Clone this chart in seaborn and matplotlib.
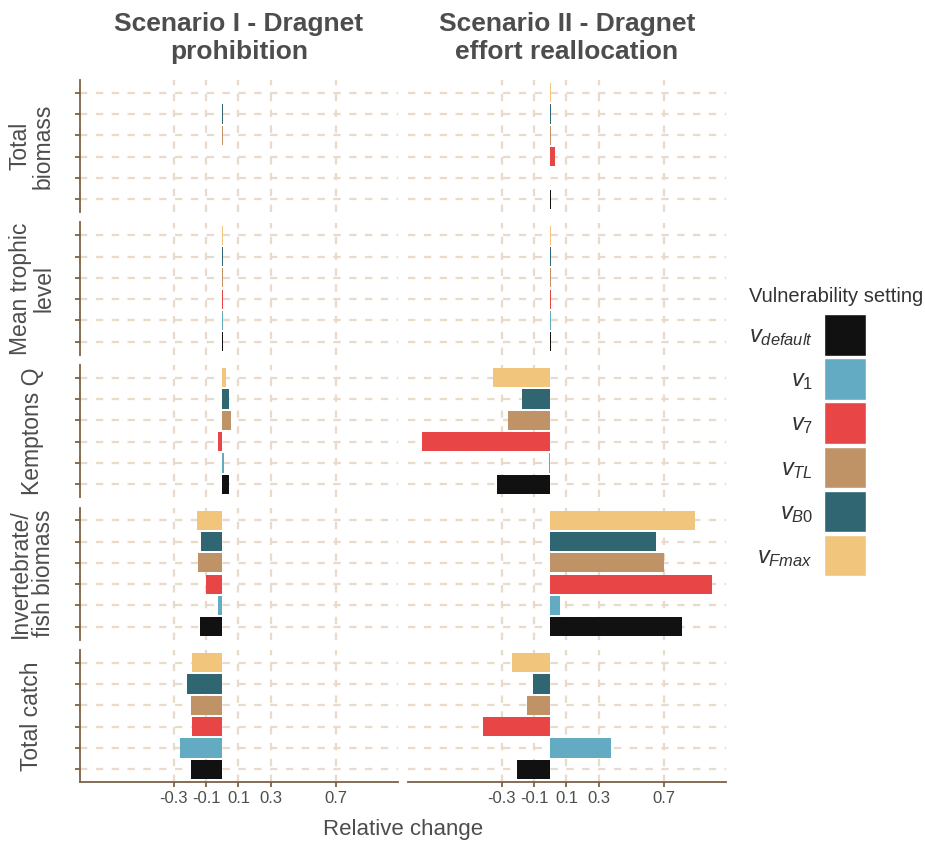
import numpy as np
import pandas as pd
import matplotlib
matplotlib.use("Agg")
import matplotlib.pyplot as plt
import seaborn as sns
from matplotlib.patches import Patch

# ---- data -----------------------------------------------------------------
settings = ["vdefault", "v1", "v7", "vTL", "vB0", "vFmax"]
setting_labels = [r"$v_{default}$", r"$v_{1}$", r"$v_{7}$", r"$v_{TL}$", r"$v_{B0}$", r"$v_{Fmax}$"]
setting_colors = ["#111111", "#63abc3", "#e84646", "#c09366", "#2f6672", "#f2c57c"]

indicators = ["Total\nbiomass", "Mean trophic\nlevel", "Kemptons Q",
              "Invertebrate/\nfish biomass", "Total catch"]
scenarios = ["Scenario I - Dragnet\nprohibition", "Scenario II - Dragnet\neffort reallocation"]

x_ticks = [-0.3, -0.1, 0.1, 0.3, 0.7]
x_tick_labels = ["-0.3", "-0.1", "0.1", "0.3", "0.7"]

# relative change per indicator; entries follow the order of `settings`
s1_total_biomass = [0.0, 0.0, 0.0, 0.006, 0.006, 0.0]
s1_mean_trophic = [0.006, 0.006, 0.007, 0.006, 0.006, 0.006]
s1_kemptons_q = [0.039, 0.008, -0.025, 0.054, 0.041, 0.025]
s1_invert_fish = [-0.139, -0.027, -0.100, -0.149, -0.133, -0.153]
s1_total_catch = [-0.195, -0.259, -0.187, -0.193, -0.218, -0.184]

s2_total_biomass = [0.006, 0.0, 0.028, 0.006, 0.006, 0.007]
s2_mean_trophic = [0.006, 0.006, 0.006, 0.006, 0.006, 0.006]
s2_kemptons_q = [-0.327, -0.010, -0.789, -0.263, -0.176, -0.352]
s2_invert_fish = [0.814, 0.058, 0.996, 0.703, 0.654, 0.893]
s2_total_catch = [-0.203, 0.376, -0.412, -0.143, -0.105, -0.238]

scenario_values = [
    [s1_total_biomass, s1_mean_trophic, s1_kemptons_q, s1_invert_fish, s1_total_catch],
    [s2_total_biomass, s2_mean_trophic, s2_kemptons_q, s2_invert_fish, s2_total_catch],
]

records = []
for sc, per_ind in zip(scenarios, scenario_values):
    for ind, vals in zip(indicators, per_ind):
        for st, v in zip(settings, vals):
            records.append({"scenario": sc, "indicator": ind, "setting": st, "change": v})
df = pd.DataFrame(records)

# ---- style ----------------------------------------------------------------
sns.set_theme(style="white")
plt.rcParams["font.family"] = ["Liberation Sans", "DejaVu Sans"]
plt.rcParams["mathtext.fontset"] = "custom"
plt.rcParams["mathtext.rm"] = "Liberation Sans"
plt.rcParams["mathtext.it"] = "Liberation Sans:italic"
plt.rcParams["lines.scale_dashes"] = False

TEXT = "#4d4d4d"
SPINE = "#7d6146"
GRID = "#e9dac9"
palette = dict(zip(settings, setting_colors))
y_order = settings[::-1]

W, H = 925, 841
fig = plt.figure(figsize=(W / 100, H / 100), dpi=100)
fig.patch.set_facecolor("white")

col_left = [80, 408]
col_w = 318
row_top0, row_pitch, row_h = 80, 142.5, 132

for i, ind in enumerate(indicators):
    for j, sc in enumerate(scenarios):
        top = row_top0 + i * row_pitch
        ax = fig.add_axes([col_left[j] / W, 1 - (top + row_h) / H, col_w / W, row_h / H])
        sub = df[(df["indicator"] == ind) & (df["scenario"] == sc)]
        sns.barplot(data=sub, x="change", y="setting", hue="setting",
                    order=y_order, hue_order=settings, palette=palette,
                    saturation=1, width=0.9, linewidth=0,
                    dodge=False, legend=False, errorbar=None, ax=ax)
        ax.set_facecolor("white")
        ax.set_xlim(-0.878, 1.085)
        ax.set_ylim(5.6, -0.6)
        ax.set_xlabel("")
        ax.set_ylabel("")
        ax.set_axisbelow(True)
        ax.set_xticks(x_ticks)
        ax.xaxis.grid(True, color=GRID, linewidth=1.6, linestyle=(0, (5.3, 6.1)))
        ax.yaxis.grid(True, color=GRID, linewidth=1.6, linestyle=(0, (5.3, 6.1)))
        for s in ["top", "right"]:
            ax.spines[s].set_visible(False)
        ax.spines["left"].set_visible(j == 0)
        ax.spines["left"].set_color(SPINE)
        ax.spines["left"].set_linewidth(1.3)
        last = i == len(indicators) - 1
        ax.spines["bottom"].set_visible(last)
        ax.spines["bottom"].set_color(SPINE)
        ax.spines["bottom"].set_linewidth(1.3)
        ax.tick_params(axis="y", left=(j == 0), labelleft=False, length=3.5,
                       width=1.3, color=SPINE)
        if last:
            ax.set_xticklabels(x_tick_labels)
            ax.tick_params(axis="x", bottom=True, labelbottom=True, length=3.5,
                           width=1.3, color=SPINE, labelsize=12, labelcolor=TEXT, pad=3)
        else:
            ax.tick_params(axis="x", bottom=False, labelbottom=False)
        if i == 0:
            ax.set_title(sc, fontsize=19, fontweight="bold", color=TEXT, pad=15)
        if j == 0:
            fig.text(32 / W, 1 - (top + row_h / 2) / H, ind, rotation=90,
                     ha="center", va="center", multialignment="center",
                     fontsize=16.5, color=TEXT, linespacing=1.0)

fig.text(403 / W, 1 - 830 / H, "Relative change", ha="center", va="center",
         fontsize=16, color=TEXT)

handles = [Patch(facecolor=c, edgecolor="white", linewidth=1.0) for c in setting_colors]
leg = fig.legend(handles, setting_labels, title="Vulnerability setting",
                 loc="upper left", bbox_to_anchor=(749 / W, 1 - 287 / H),
                 frameon=False, markerfirst=False, fontsize=17, title_fontsize=14.5,
                 handlelength=1.78, handleheight=2.34, labelspacing=0.1,
                 handletextpad=0.45, borderpad=0, borderaxespad=0,
                 alignment="left")
leg._legend_box.sep = 6
leg.get_title().set_color("#333333")
for t in leg.get_texts():
    t.set_color("#333333")

fig.savefig("out.png", dpi=100, facecolor="white")
